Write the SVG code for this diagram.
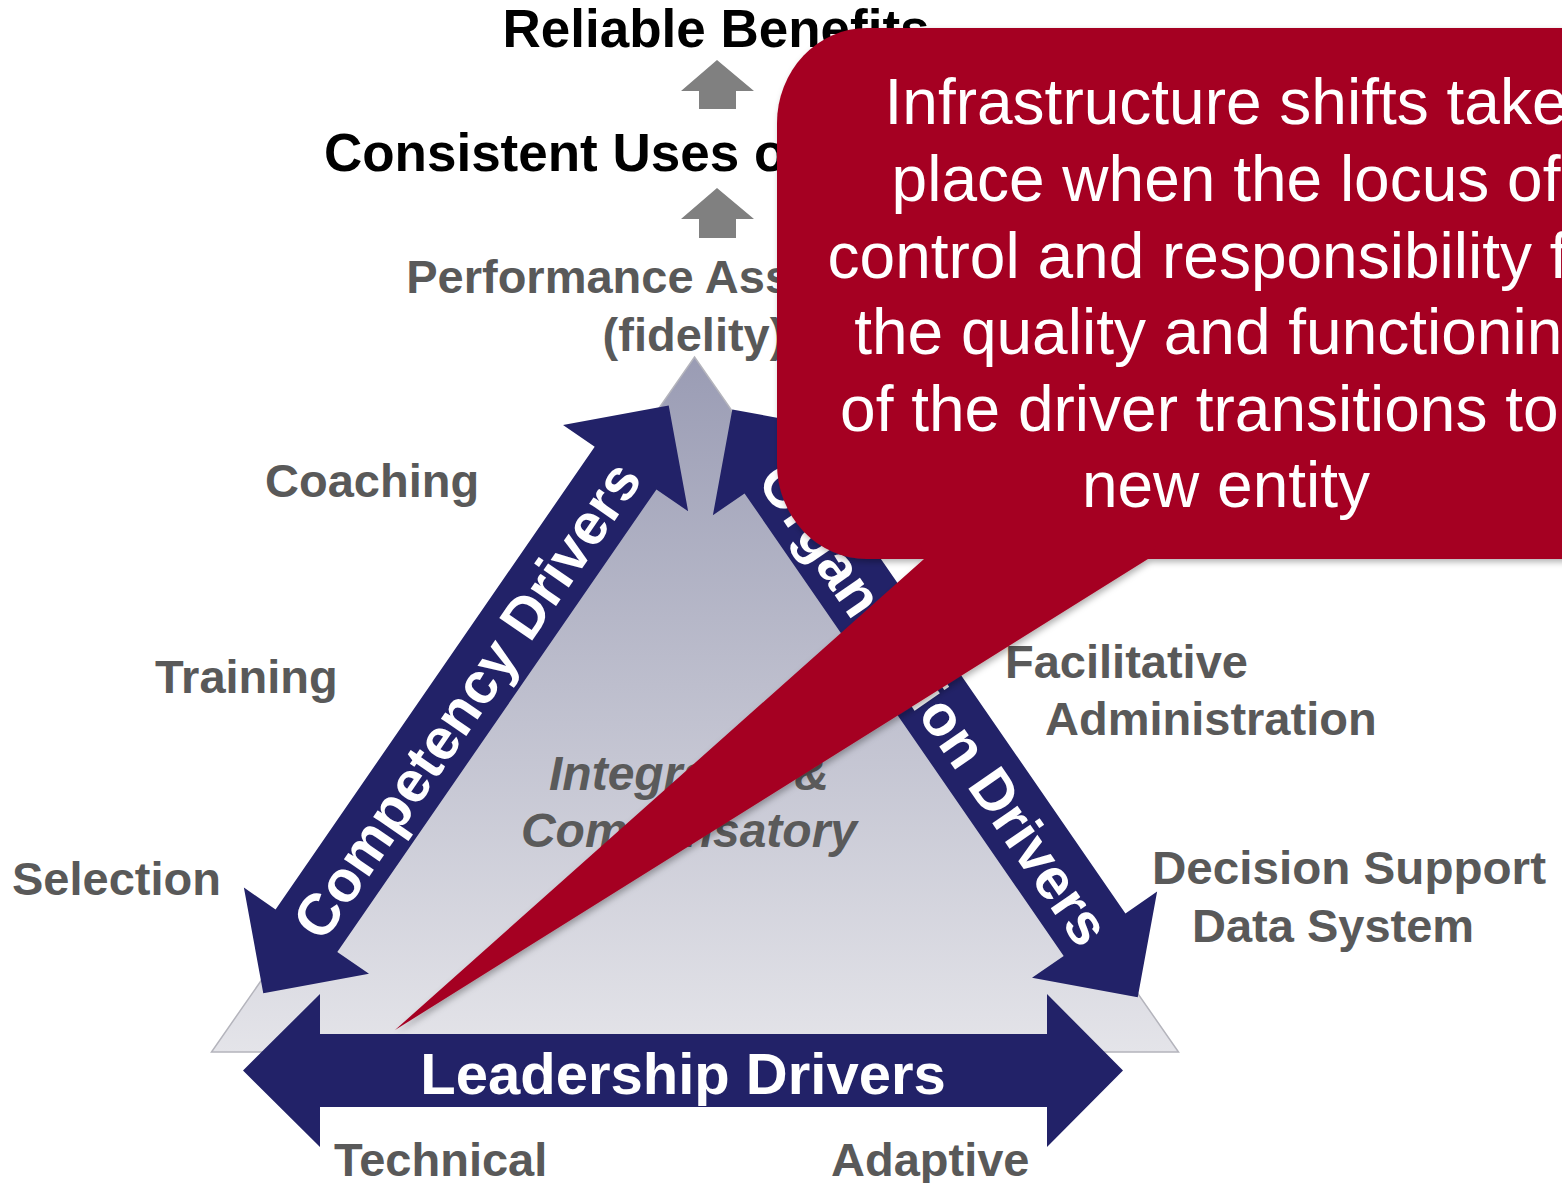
<svg xmlns="http://www.w3.org/2000/svg" width="1562" height="1183" viewBox="0 0 1562 1183">
<style>
  .title { font-family: "Liberation Sans", Arial, sans-serif; font-weight: bold; font-size: 53px; fill: #000000; }
  .lbl { font-family: "Liberation Sans", Arial, sans-serif; font-weight: bold; font-size: 47px; fill: #595959; }
  .ital { font-family: "Liberation Sans", Arial, sans-serif; font-weight: bold; font-style: italic; font-size: 48px; fill: #5a5a5a; text-anchor: middle; }
  .drv { font-family: "Liberation Sans", Arial, sans-serif; font-weight: bold; font-size: 58px; fill: #ffffff; text-anchor: middle; }
  .navy { fill: #222268; }
  .uparrow { fill: #808080; }
  .callout-text { font-family: "Liberation Sans", Arial, sans-serif; font-size: 64px; fill: #ffffff; text-anchor: middle; }
</style>
<defs>
  <linearGradient id="triGrad" gradientUnits="userSpaceOnUse" x1="0" y1="357" x2="0" y2="1052">
    <stop offset="0" stop-color="#9a9cb4"/>
    <stop offset="1" stop-color="#e4e4e9"/>
  </linearGradient>
  <filter id="shadow" x="-10%" y="-10%" width="130%" height="130%">
    <feDropShadow dx="2" dy="3" stdDeviation="3" flood-color="#000000" flood-opacity="0.3"/>
  </filter>
  <path id="dblArrow" d="M 357 0 L 281 -76 L 281 -37.5 L -281 -37.5 L -281 -76 L -357 0 L -281 76 L -281 37.5 L 281 37.5 L 281 76 Z"/>
</defs>

<rect x="0" y="0" width="1562" height="1183" fill="#ffffff"/>

<g id="reliable-benefits">
  <text class="title" x="716" y="47" text-anchor="middle">Reliable Benefits</text>
</g>
<g id="consistent-uses">
  <text class="title" x="720" y="171" text-anchor="middle">Consistent Uses of Innovations</text>
</g>
<g id="connectors">
  <polygon class="uparrow" points="717,60 754,91 736,91 736,109 699,109 699,91 681,91"/>
  <polygon class="uparrow" points="717,188 754,219 736,219 736,238 699,238 699,219 681,219"/>
</g>
<g id="performance-assessment">
  <text class="lbl" x="694" y="293" text-anchor="middle">Performance Assessment</text>
  <text class="lbl" x="694" y="351" text-anchor="middle">(fidelity)</text>
</g>

<g id="triangle">
  <polygon points="694.5,357 1178.5,1052 211.5,1052" fill="url(#triGrad)" stroke="#b4b4bc" stroke-width="1.5"/>
</g>

<g id="integrated-compensatory">
  <text class="ital" x="689" y="790">Integrated &amp;</text>
  <text class="ital" x="689" y="847">Compensatory</text>
</g>

<g id="competency-drivers" transform="translate(466 699.4) rotate(-55.4)">
  <use href="#dblArrow" class="navy"/>
  <text class="drv" x="0" y="21">Competency Drivers</text>
</g>

<g id="organization-drivers" transform="translate(935 703.4) rotate(55.4)">
  <use href="#dblArrow" class="navy"/>
  <text class="drv" x="0" y="21">Organization Drivers</text>
</g>

<g id="leadership-drivers">
  <polygon class="navy" points="243,1070.5 320,994 320,1034 1047,1034 1047,994 1123,1070.5 1047,1147 1047,1107 320,1107 320,1147"/>
  <text class="drv" x="683" y="1094">Leadership Drivers</text>
</g>

<g id="competency-labels">
  <text class="lbl" x="265" y="497">Coaching</text>
  <text class="lbl" x="155" y="693">Training</text>
  <text class="lbl" x="12" y="895">Selection</text>
</g>
<g id="organization-labels">
  <text class="lbl" x="1005" y="678">Facilitative</text>
  <text class="lbl" x="1045" y="735">Administration</text>
  <text class="lbl" x="1152" y="884" textLength="394" lengthAdjust="spacingAndGlyphs">Decision Support</text>
  <text class="lbl" x="1192" y="942">Data System</text>
</g>
<g id="leadership-labels">
  <text class="lbl" x="334" y="1176">Technical</text>
  <text class="lbl" x="831" y="1176">Adaptive</text>
</g>

<g id="callout" filter="url(#shadow)">
  <rect x="777" y="28" width="898" height="531" rx="90" ry="95" fill="#a50022"/>
  <polygon points="920,540 924,559 395,1030 1148,559 1160,540" fill="#a50022"/>
  <text class="callout-text" x="1226" y="124">Infrastructure shifts take</text>
  <text class="callout-text" x="1226" y="201">place when the locus of</text>
  <text class="callout-text" x="1226" y="278">control and responsibility for</text>
  <text class="callout-text" x="1226" y="354">the quality and functioning</text>
  <text class="callout-text" x="1226" y="431">of the driver transitions to a</text>
  <text class="callout-text" x="1226" y="507">new entity</text>
</g>
</svg>
